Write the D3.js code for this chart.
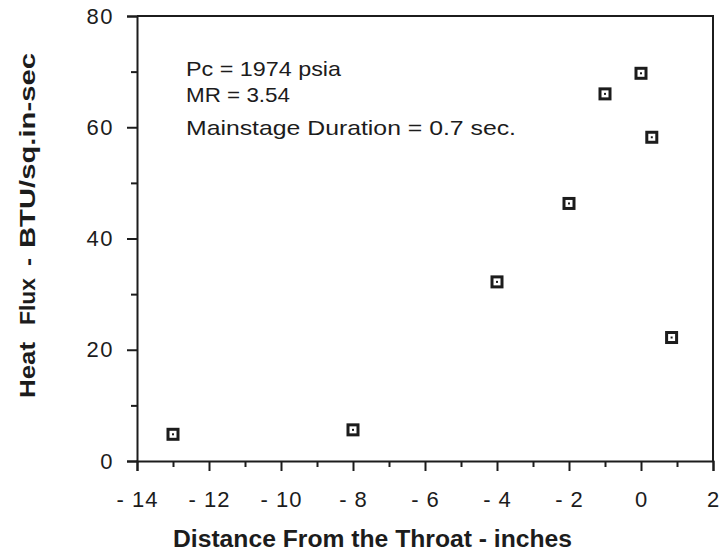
<!DOCTYPE html>
<html>
<head>
<meta charset="utf-8">
<script src="https://cdn.jsdelivr.net/npm/d3@7"></script>
<style>
  html, body { margin: 0; padding: 0; background: #fff; }
  svg { display: block; }
  text { font-family: "Liberation Sans", Arial, Helvetica, sans-serif; fill: #1c1c1c; }
</style>
</head>
<body>
<svg id="chart" width="722" height="556"></svg>
<script>
// ---- data ----
const distance = [-13, -8, -4, -2, -1, 0, 0.3, 0.85];
const heatFlux = [4.8, 5.6, 32.2, 46.3, 66.0, 69.7, 58.2, 22.2];
const xMajorTicks = [-14, -12, -10, -8, -6, -4, -2, 0, 2];
const xMinorTicks = [-13, -11, -9, -7, -5, -3, -1, 1];
const yMajorTicks = [0, 20, 40, 60, 80];
const yMinorTicks = [10, 30, 50, 70];
const annotations = ["Pc = 1974 psia", "MR = 3.54", "Mainstage Duration = 0.7 sec."];
const xTitle = "Distance From the Throat - inches";
const yTitleParts = ["Heat", "Flux", "-", "BTU/sq.in-sec"];

// ---- layout ----
const ink = "#1c1c1c";
const mLeft = 137, mRight = 713, mTop = 16, mBottom = 461;
const svg = d3.select("#chart");

const x = d3.scaleLinear().domain([-14, 2]).range([mLeft, mRight]);
const y = d3.scaleLinear().domain([0, 80]).range([mBottom, mTop]);

// frame (top & right)
svg.append("path")
  .attr("d", `M${mLeft},${mTop}H${mRight}V${mBottom}`)
  .attr("fill", "none").attr("stroke", ink).attr("stroke-width", 2);

// x axis
const fmtX = d => d < 0 ? "- " + Math.abs(d) : String(d);
const gx = svg.append("g").attr("transform", `translate(0,${mBottom})`)
  .call(d3.axisBottom(x).tickValues(xMajorTicks).tickSize(10).tickPadding(20).tickFormat(fmtX));
svg.append("g").attr("transform", `translate(0,${mBottom})`)
  .call(d3.axisBottom(x).tickValues(xMinorTicks).tickSize(6).tickFormat(""))
  .call(g => g.select(".domain").remove());

// y axis
const gy = svg.append("g").attr("transform", `translate(${mLeft},0)`)
  .call(d3.axisLeft(y).tickValues(yMajorTicks).tickSize(10).tickPadding(13).tickFormat(d3.format("d")));
svg.append("g").attr("transform", `translate(${mLeft},0)`)
  .call(d3.axisLeft(y).tickValues(yMinorTicks).tickSize(6).tickFormat(""))
  .call(g => g.select(".domain").remove());

svg.selectAll(".domain").attr("stroke", ink).attr("stroke-width", 2);
svg.selectAll(".tick line").attr("stroke", ink).attr("stroke-width", 2);
gx.selectAll(".tick text").attr("font-size", 22).attr("fill", ink)
  .attr("font-family", "Liberation Sans, Arial, sans-serif").attr("letter-spacing", "1px");
gy.selectAll(".tick text").attr("font-size", 22).attr("fill", ink)
  .attr("font-family", "Liberation Sans, Arial, sans-serif").attr("letter-spacing", "1.5px");

// annotations
const annY = [76, 102, 135];
const annLen = [155, 104, 330];
svg.append("g").selectAll("text").data(annotations).join("text")
  .attr("x", 186).attr("y", (d, i) => annY[i])
  .attr("font-size", 21)
  .attr("textLength", (d, i) => annLen[i]).attr("lengthAdjust", "spacingAndGlyphs")
  .text(d => d);

// axis titles
svg.append("text")
  .attr("x", (173 + 572) / 2).attr("y", 547)
  .attr("text-anchor", "middle").attr("font-size", 23).attr("font-weight", "bold")
  .attr("textLength", 399).attr("lengthAdjust", "spacingAndGlyphs")
  .text(xTitle);

const yTitlePos = [370, 301.5, 262, 150.5];
const yTitleLen = [56, 47, 8, 195];
svg.append("g").selectAll("text").data(yTitleParts).join("text")
  .attr("transform", (d, i) => `translate(35,${yTitlePos[i]}) rotate(-90)`)
  .attr("text-anchor", "middle").attr("font-size", 22).attr("font-weight", "bold")
  .attr("textLength", (d, i) => yTitleLen[i]).attr("lengthAdjust", "spacingAndGlyphs")
  .text(d => d);

// markers
const pts = distance.map((d, i) => ({ x: d, y: heatFlux[i] }));
const mk = svg.append("g").selectAll("g").data(pts).join("g")
  .attr("transform", d => `translate(${x(d.x)},${y(d.y)})`);
mk.append("rect").attr("x", -5).attr("y", -5).attr("width", 10).attr("height", 10)
  .attr("fill", "#fff").attr("stroke", ink).attr("stroke-width", 3);
mk.append("rect").attr("x", -1).attr("y", -1).attr("width", 2).attr("height", 2)
  .attr("fill", ink);
</script>
</body>
</html>
